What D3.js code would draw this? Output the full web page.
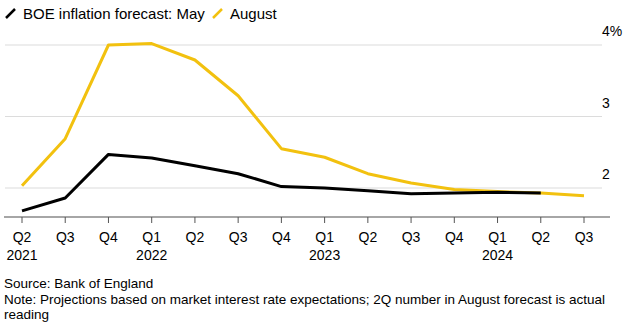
<html>
<head>
  <title>BOE inflation forecast</title>
  <script type="text/javascript" src="https://cdn.jsdelivr.net/npm/d3@7"></script>
  <style>
    body { margin: 0; background: #fff; }
    svg text { font-family: "Liberation Sans", Arial, sans-serif; fill: #000; }
  </style>
</head>
<body>
<script type="text/javascript">
  // data
  const quarters = ["Q2", "Q3", "Q4", "Q1", "Q2", "Q3", "Q4", "Q1", "Q2", "Q3", "Q4", "Q1", "Q2", "Q3"];
  const years = ["2021", "", "", "2022", "", "", "", "2023", "", "", "", "2024", "", ""];
  const may = [1.68, 1.86, 2.47, 2.42, 2.31, 2.2, 2.02, 2.0, 1.96, 1.92, 1.93, 1.94, 1.93];
  const august = [2.03, 2.69, 4.0, 4.02, 3.79, 3.29, 2.55, 2.43, 2.2, 2.07, 1.98, 1.95, 1.93, 1.89];
  const yTicks = [2, 3, 4];
  const yLabels = ["2", "3", "4%"];

  const w = 632, h = 331;
  const mayColor = "#000000", augColor = "#f2c10f";

  const svg = d3.select("body").append("svg")
    .attr("width", w)
    .attr("height", h);

  const x = d3.scalePoint()
    .domain(d3.range(quarters.length))
    .range([22, 584]);

  const y = d3.scaleLinear()
    .domain([2, 4])
    .range([188, 45]);

  // gridlines + right labels
  svg.selectAll(".grid")
    .data(yTicks)
    .join("line")
    .attr("x1", 5).attr("x2", 602)
    .attr("y1", d => y(d)).attr("y2", d => y(d))
    .attr("stroke", "#dcdcdc")
    .attr("stroke-width", 1.2);

  svg.selectAll(".ylab")
    .data(yTicks)
    .join("text")
    .attr("x", 602)
    .attr("y", d => y(d) - 9)
    .style("font-size", "14px")
    .text((d, i) => yLabels[i]);

  // x axis
  const base = 217;
  svg.append("line")
    .attr("x1", 4).attr("x2", 610)
    .attr("y1", base).attr("y2", base)
    .attr("stroke", "#888")
    .attr("stroke-width", 1.3);

  const ticks = svg.selectAll(".tick")
    .data(quarters)
    .join("g")
    .attr("transform", (d, i) => `translate(${x(i)},0)`);

  ticks.append("line")
    .attr("y1", base).attr("y2", base + 6)
    .attr("stroke", "#555")
    .attr("stroke-width", 1);

  ticks.append("text")
    .attr("y", 242)
    .attr("text-anchor", "middle")
    .style("font-size", "14px")
    .text(d => d);

  ticks.append("text")
    .attr("y", 260)
    .attr("text-anchor", "middle")
    .style("font-size", "14px")
    .text((d, i) => years[i]);

  // lines
  const line = d3.line()
    .x((d, i) => x(i))
    .y(d => y(d));

  svg.append("path")
    .datum(august)
    .attr("d", line)
    .attr("fill", "none")
    .attr("stroke", augColor)
    .attr("stroke-width", 3)
    .attr("stroke-linejoin", "round");

  svg.append("path")
    .datum(may)
    .attr("d", line)
    .attr("fill", "none")
    .attr("stroke", mayColor)
    .attr("stroke-width", 3)
    .attr("stroke-linejoin", "round");

  // legend
  const legend = [
    { name: "BOE inflation forecast: May", color: mayColor, x: 5 },
    { name: "August", color: augColor, x: 212 }
  ];
  const lg = svg.selectAll(".legend")
    .data(legend)
    .join("g")
    .attr("transform", d => `translate(${d.x},0)`);
  lg.append("line")
    .attr("x1", 1).attr("y1", 18)
    .attr("x2", 10).attr("y2", 9)
    .attr("stroke", d => d.color)
    .attr("stroke-width", 2.5);
  lg.append("text")
    .attr("x", 18)
    .attr("y", 19)
    .style("font-size", "15px")
    .text(d => d.name);

  // footer
  const notes = [
    "Source: Bank of England",
    "Note: Projections based on market interest rate expectations; 2Q number in August forecast is actual",
    "reading"
  ];
  svg.selectAll(".note")
    .data(notes)
    .join("text")
    .attr("x", 4)
    .attr("y", (d, i) => 288 + i * 15.5)
    .style("font-size", "13.5px")
    .text(d => d);
</script>
</body>
</html>
